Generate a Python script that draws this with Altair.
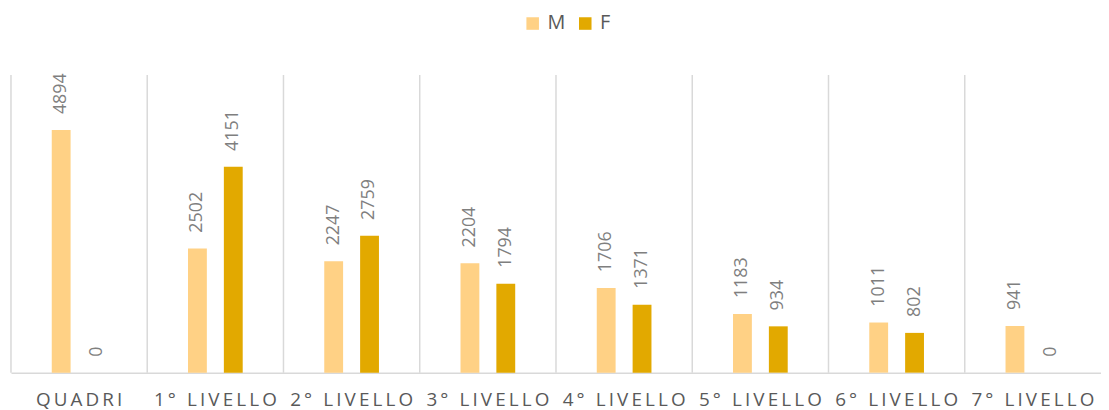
import altair as alt
import pandas as pd

categories = ["QUADRI", "1° LIVELLO", "2° LIVELLO", "3° LIVELLO",
              "4° LIVELLO", "5° LIVELLO", "6° LIVELLO", "7° LIVELLO"]
series = ["M", "F"]
m_values = [4894, 2502, 2247, 2204, 1706, 1183, 1011, 941]
f_values = [0, 4151, 2759, 1794, 1371, 934, 802, 0]
colors = ["#FFD185", "#E2A900"]

rows = []
for c, m, f in zip(categories, m_values, f_values):
    rows.append({"cat": c, "series": "M", "value": m})
    rows.append({"cat": c, "series": "F", "value": f})
df = pd.DataFrame(rows)
cats_df = pd.DataFrame({"cat": categories})

W = 1099
H = 300
FONT = "Open Sans"
STEP = W / len(categories)

x_axis = alt.Axis(
    labelAngle=0, ticks=False, grid=False, domainColor="#d9d9d9",
    domainWidth=1.5, labelFont=FONT, labelFontSize=19, labelColor="#595959",
    labelPadding=18,
    labelExpr="join(split(datum.label, ''), '\u2009')",
)
x_scale = alt.Scale(paddingInner=0, paddingOuter=0)

xo_enc = alt.XOffset("series:N", sort=series,
                     scale=alt.Scale(paddingInner=0, paddingOuter=0.9))
y_enc = alt.Y("value:Q", scale=alt.Scale(domain=[0, 6000]), axis=None)
color_enc = alt.Color(
    "series:N", sort=series,
    scale=alt.Scale(domain=series, range=colors),
    legend=alt.Legend(
        orient="none", legendX=516, legendY=-62,
        direction="horizontal", title=None,
        symbolType="square", symbolSize=160, symbolStrokeWidth=0,
        labelFont=FONT, labelFontSize=20, labelColor="#595959",
        columnPadding=10, labelOffset=5,
    ),
)

grid = alt.Chart(cats_df).mark_rule(
    color="#d9d9d9", strokeWidth=1.5, xOffset=-STEP / 2
).encode(
    x=alt.X("cat:N", sort=categories, title=None, scale=x_scale, axis=x_axis),
    y=alt.value(0),
    y2=alt.value(H),
)

bars = alt.Chart(df).mark_bar(size=19).encode(
    x=alt.X("cat:N", sort=categories, title=None, scale=x_scale, axis=x_axis),
    xOffset=xo_enc, y=y_enc, color=color_enc,
)

labels = alt.Chart(df).mark_text(
    angle=270, align="left", baseline="middle", dx=16,
    font=FONT, fontSize=18, color="#7f7f7f",
).encode(
    x=alt.X("cat:N", sort=categories),
    xOffset=alt.XOffset("series:N", sort=series),
    y=alt.Y("value:Q"),
    text=alt.Text("value:Q", format="d"),
)

chart = alt.layer(grid, bars, labels).properties(
    width=W, height=H,
    padding={"left": 2, "top": 4, "right": 0, "bottom": 0},
).configure_view(strokeWidth=0)

chart.save("out.html", embed_options={"renderer": "svg", "actions": False})
